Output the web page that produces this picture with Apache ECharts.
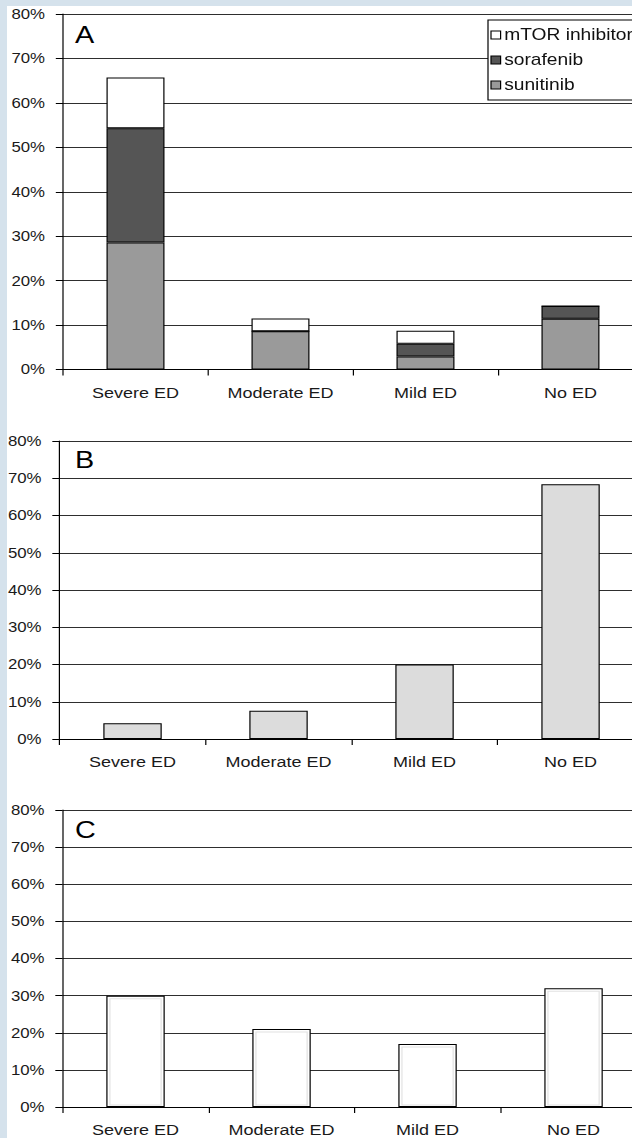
<!DOCTYPE html>
<html>
<head>
<meta charset="utf-8">
<title>Erectile dysfunction by treatment</title>
<script src="https://cdn.jsdelivr.net/npm/echarts@6/dist/echarts.min.js"></script>
<style>
  html, body { margin: 0; padding: 0; background: #ffffff; width: 632px; height: 1138px; overflow: hidden; position: relative; }
  #chart { position: absolute; left: 0; top: 0; height: 1138px; transform-origin: 0 0; }
  .strip { position: absolute; background: #d5e2ec; z-index: 5; }
</style>
</head>
<body>
<div class="strip" style="left:0;top:0;width:632px;height:6px"></div>
<div class="strip" style="left:0;top:0;width:7px;height:1138px"></div>
<div id="chart"></div>
<script>
// ---- data (percent of patients) ----
const categories = ['Severe ED', 'Moderate ED', 'Mild ED', 'No ED'];

// Panel A: stacked by drug
const sunitinib = [28.6, 8.6, 2.9, 11.4];
const sorafenib = [25.7, 0, 2.9, 2.9];
const mtorInhibitor = [11.4, 2.9, 2.9, 0];

// Panel B and panel C
const panelB = [4.2, 7.6, 20.0, 68.4];
const panelC = [30, 21, 17, 32];

const yTicks = { min: 0, max: 80, step: 10 };
const panelLetters = ['A', 'B', 'C'];
const legendOrder = ['mTOR inhibitor', 'sorafenib', 'sunitinib'];

// ---- layout ----
// The figure is drawn horizontally stretched, so the chart is laid out
// in a narrower box and widened with a CSS scale.
const STRETCH = 1.2;
const W = 632 / STRETCH;
const el = document.getElementById('chart');
el.style.width = W + 'px';
el.style.transform = 'scaleX(' + STRETCH + ')';

const FONT = '"Liberation Sans", Arial, Helvetica, sans-serif';
const grids = [
  { left: 52.5, top: 14,  width: 483.3, height: 355.5 },
  { left: 49.6, top: 441, width: 486.7, height: 298 },
  { left: 52.1, top: 810, width: 486.7, height: 297 }
];

const gridOpts = grids.map(g => Object.assign({ outerBoundsMode: 'none', containLabel: false }, g));

const xAxes = grids.map((g, i) => ({
  gridIndex: i,
  type: 'category',
  data: categories,
  axisLine: { show: true, lineStyle: { color: '#000', width: 1 } },
  axisTick: { show: true, length: 6, lineStyle: { color: '#000', width: 1 } },
  axisLabel: { fontSize: 15, color: '#1a1a1a', margin: 16, fontFamily: FONT },
  splitLine: { show: false }
}));

const yAxes = grids.map((g, i) => ({
  gridIndex: i,
  type: 'value',
  min: yTicks.min,
  max: yTicks.max,
  interval: yTicks.step,
  axisLine: { show: true, lineStyle: { color: '#000', width: 1 } },
  axisTick: { show: true, length: 6, lineStyle: { color: '#000', width: 1 } },
  axisLabel: { formatter: '{value}%', fontSize: 14, color: '#1a1a1a', margin: 15, fontFamily: FONT },
  splitLine: { show: true, lineStyle: { color: '#2e2e2e', width: 1.2 } }
}));

const outline = { borderColor: '#000', borderWidth: 1 };

function stackBar(name, values, color) {
  return {
    name: name, type: 'bar', xAxisIndex: 0, yAxisIndex: 0, stack: 'drug',
    barWidth: '40%', data: values,
    itemStyle: Object.assign({ color: color }, outline)
  };
}

const series = [
  stackBar('sunitinib', sunitinib, '#9a9a9a'),
  stackBar('sorafenib', sorafenib, '#555555'),
  stackBar('mTOR inhibitor', mtorInhibitor, '#ffffff'),
  {
    name: 'Panel B', type: 'bar', xAxisIndex: 1, yAxisIndex: 1,
    barWidth: '40%', data: panelB,
    itemStyle: Object.assign({ color: '#dcdcdc' }, outline)
  },
  {
    name: 'Panel C', type: 'bar', xAxisIndex: 2, yAxisIndex: 2,
    barWidth: '40%', data: panelC,
    itemStyle: Object.assign({ color: '#ffffff' }, outline)
  },
  {
    // faint inner frame of the white bars
    name: 'Panel C frame', type: 'custom', xAxisIndex: 2, yAxisIndex: 2, z: 3,
    data: panelC.map((v, i) => [i, v]),
    encode: { x: 0, y: 1 },
    silent: true,
    renderItem: function (params, api) {
      const i = api.value(0), v = api.value(1);
      const base = api.coord([i, 0]);
      const top = api.coord([i, v]);
      const w = api.size([1, 0])[0] * 0.4;
      const inset = 3;
      return {
        type: 'rect',
        shape: { x: base[0] - w / 2 + inset, y: top[1] + inset, width: w - 2 * inset, height: base[1] - top[1] - inset - 2 },
        style: { fill: 'none', stroke: '#e2e2e2', lineWidth: 1 }
      };
    }
  }
];

const letterTops = [23, 448, 818];
const graphic = panelLetters.map((t, i) => ({
  type: 'text', left: 62.5, top: letterTops[i], z: 10,
  style: { text: t, font: '24px ' + FONT, fill: '#000' }
}));

const chart = echarts.init(el, null, { renderer: 'svg', width: W, height: 1138 });
chart.setOption({
  animation: false,
  backgroundColor: '#ffffff',
  textStyle: { fontFamily: FONT },
  grid: gridOpts,
  xAxis: xAxes,
  yAxis: yAxes,
  legend: {
    data: legendOrder,
    orient: 'vertical',
    left: 488 / STRETCH,
    top: 20,
    padding: [7, 8, 7, 2],
    itemGap: 9,
    itemWidth: 8,
    itemHeight: 8,
    icon: 'rect',
    selectedMode: false,
    backgroundColor: '#ffffff',
    borderColor: '#000',
    borderWidth: 1,
    borderRadius: 0,
    itemStyle: { borderColor: '#000', borderWidth: 1 },
    textStyle: { fontSize: 16, color: '#111', fontFamily: FONT, padding: [0, 0, 0, -2] }
  },
  graphic: graphic,
  series: series
});
</script>
</body>
</html>
